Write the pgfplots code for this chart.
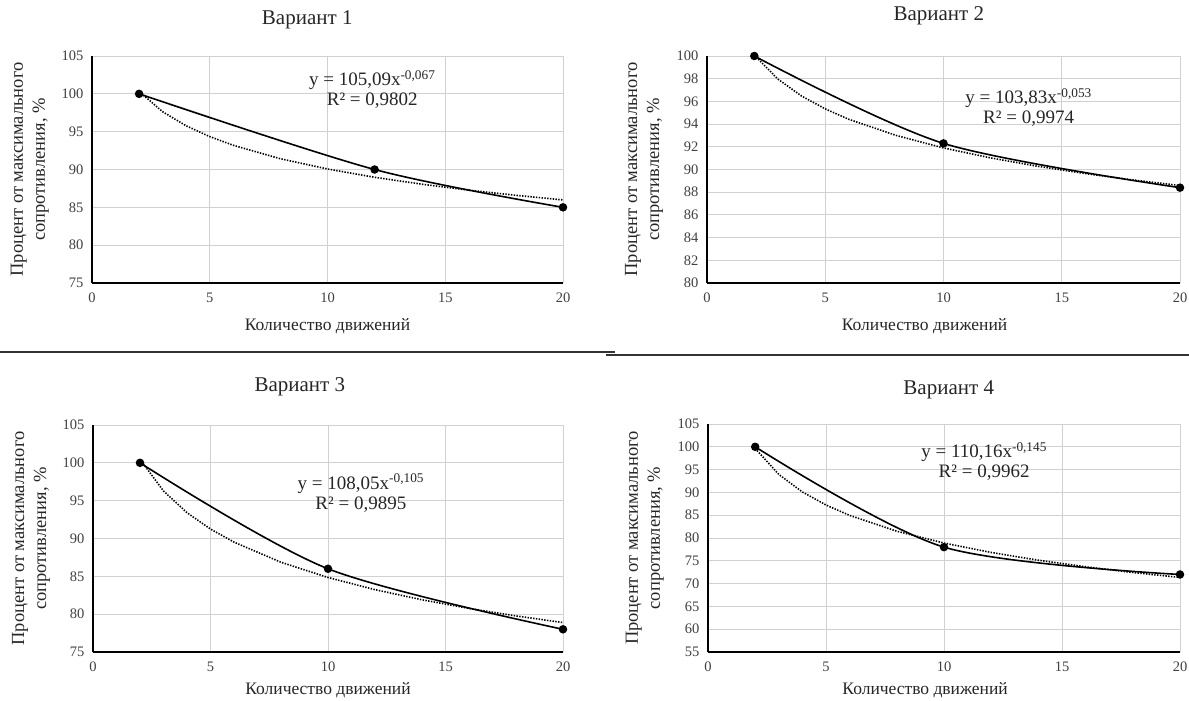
\documentclass[border=0pt]{standalone}
\usepackage{fontspec}
\setmainfont{Liberation Serif}
\usepackage{pgfplots}
\pgfplotsset{compat=1.18}

\tikzset{eq/.style={align=center, font=\fontsize{19}{20}\selectfont, text=black!85}}
\pgfplotsset{
  excel/.style={
    scale only axis,
    enlargelimits=false,
    xmin=0,xmax=20,
    xtick={0,5,10,15,20},
    grid=major,
    grid style={draw=black!18, line width=0.9pt},
    axis x line=bottom, axis y line=left,
    axis line style={-, line width=1.6pt, black},
    major tick length=0pt,
    tick label style={font=\fontsize{14.5}{15}\selectfont, text=black!75},
    /pgf/number format/assume math mode=true,
    /pgf/number format/1000 sep={},
    xticklabel style={yshift=-6pt},
    yticklabel style={xshift=-5pt},
    xlabel={Количество движений},
    ylabel={Процент от максимального\\сопротивления, \%},
    ylabel style={align=center, font=\fontsize{18.5}{22}\selectfont, text=black!85},
    xlabel style={font=\fontsize{17.5}{18}\selectfont, text=black!85},
    title style={font=\fontsize{21}{21}\selectfont, text=black!85},
    clip=false,
  },
  dat/.style={black, line width=1.6pt, smooth, mark=*, mark size=3.4pt, mark options={solid, fill=black}},
  trend/.style={black, line width=1.6pt, dash pattern=on 1.4pt off 1.4pt, no marks},
}

\begin{document}
\begin{tikzpicture}
\useasboundingbox (0,0) rectangle (1189pt,-701pt);

% ---------- Вариант 1 ----------
\begin{axis}[excel,
  at={(92pt,-283pt)}, anchor=south west,
  width=471pt, height=227pt,
  ymin=75, ymax=105, ytick={75,80,85,90,95,100,105},
  title={Вариант 1},
  title style={at={(0.457,1)}, anchor=center, yshift=30pt},
  xlabel style={at={(axis description cs:0.50,0)}, anchor=center, yshift=-43pt},
  ylabel style={at={(axis description cs:-0.132,0.5)}, anchor=center},
]
\addplot[trend] coordinates {(2,100.32) (3,97.63) (4,95.77) (5,94.35) (6,93.20) (8,91.42) (10,90.07) (12,88.97) (14,88.06) (16,87.27) (18,86.59) (20,85.98)};
\addplot[dat] coordinates {(2,100) (12,90) (20,85)};
\node[eq] at (axis cs:11.9,100.6) {y = 105,09x\textsuperscript{-0,067}\\R² = 0,9802};
\end{axis}

% ---------- Вариант 2 ----------
\begin{axis}[excel,
  at={(707pt,-283pt)}, anchor=south west,
  width=473pt, height=227pt,
  ymin=80, ymax=100, ytick={80,82,84,86,88,90,92,94,96,98,100},
  title={Вариант 2},
  title style={at={(0.49,1)}, anchor=center, yshift=34pt},
  xlabel style={at={(axis description cs:0.46,0)}, anchor=center, yshift=-43pt},
  ylabel style={at={(axis description cs:-0.133,0.5)}, anchor=center},
]
\addplot[trend] coordinates {(2,100.08) (3,97.96) (4,96.47) (5,95.34) (6,94.42) (8,93.00) (10,91.90) (12,91.02) (14,90.28) (16,89.64) (18,89.08) (20,88.59)};
\addplot[dat] coordinates {(2,100) (10,92.3) (20,88.4)};
\node[eq] at (axis cs:13.6,95.45) {y = 103,83x\textsuperscript{-0,053}\\R² = 0,9974};
\end{axis}

% ---------- Вариант 3 ----------
\begin{axis}[excel,
  at={(93pt,-652pt)}, anchor=south west,
  width=470pt, height=227pt,
  ymin=75, ymax=105, ytick={75,80,85,90,95,100,105},
  title={Вариант 3},
  title style={at={(0.44,1)}, anchor=center, yshift=32pt},
  xlabel style={at={(axis description cs:0.50,0)}, anchor=center, yshift=-38pt},
  ylabel style={at={(axis description cs:-0.132,0.5)}, anchor=center},
]
\addplot[trend] coordinates {(2,100.47) (3,96.28) (4,93.41) (5,91.25) (6,89.52) (8,86.86) (10,84.85) (12,83.24) (14,81.90) (16,80.76) (18,79.77) (20,78.89)};
\addplot[dat] coordinates {(2,100) (10,86) (20,78)};
\node[eq] at (axis cs:11.4,96.0) {y = 108,05x\textsuperscript{-0,105}\\R² = 0,9895};
\end{axis}

% ---------- Вариант 4 ----------
\begin{axis}[excel,
  at={(708pt,-652pt)}, anchor=south west,
  width=472pt, height=228pt,
  ymin=55, ymax=105, ytick={55,60,65,70,75,80,85,90,95,100,105},
  title={Вариант 4},
  title style={at={(0.51,1)}, anchor=center, yshift=28pt},
  xlabel style={at={(axis description cs:0.46,0)}, anchor=center, yshift=-38pt},
  ylabel style={at={(axis description cs:-0.134,0.5)}, anchor=center},
]
\addplot[trend] coordinates {(2,99.63) (3,93.94) (4,90.10) (5,87.23) (6,84.96) (8,81.49) (10,78.89) (12,76.83) (14,75.13) (16,73.69) (18,72.44) (20,71.35)};
\addplot[dat] coordinates {(2,100) (10,78) (20,72)};
\node[eq] at (axis cs:11.7,96.7) {y = 110,16x\textsuperscript{-0,145}\\R² = 0,9962};
\end{axis}

% separators
\draw[line width=1.6pt, black!80] (0pt,-352pt) -- (615pt,-352pt);
\draw[line width=1.6pt, black!80] (606pt,-355pt) -- (1189pt,-355pt);
\end{tikzpicture}
\end{document}
